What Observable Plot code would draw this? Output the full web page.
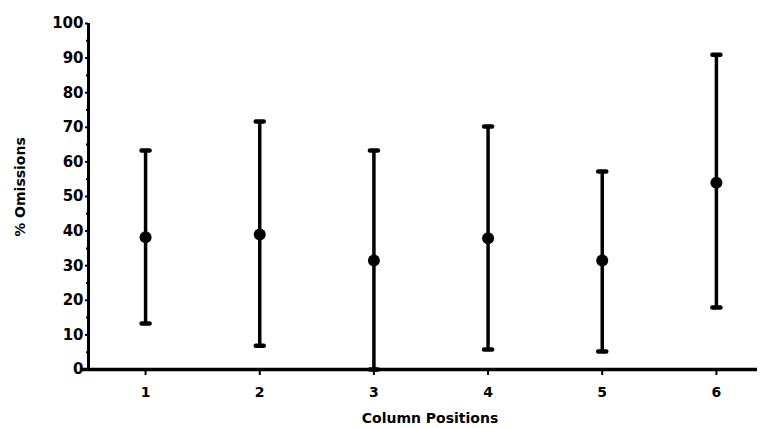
<!DOCTYPE html>
<html>
<head>
<meta charset="utf-8">
<script src="https://cdn.jsdelivr.net/npm/d3@7"></script>
<script src="https://cdn.jsdelivr.net/npm/@observablehq/plot@0.6"></script>
<style>
  html, body { margin: 0; padding: 0; background: #fff; }
  #chart svg { display: block; }
</style>
</head>
<body>
<div id="chart"></div>
<script>
// Data
const columns = [1, 2, 3, 4, 5, 6];
const means = [38.2, 39.0, 31.5, 37.9, 31.5, 54.0];
const lows  = [13.3, 6.9, 0.0, 5.8, 5.2, 17.9];
const highs = [63.3, 71.7, 63.3, 70.2, 57.2, 91.0];
const yTicks = [0, 10, 20, 30, 40, 50, 60, 70, 80, 90, 100];
const yMinorTicks = [5, 15, 25, 35, 45, 55, 65, 75, 85, 95];
const xTicks = [1, 2, 3, 4, 5, 6];
const xTitle = "Column Positions";
const yTitle = "% Omissions";

const data = columns.map((c, i) => ({col: c, mean: means[i], low: lows[i], high: highs[i]}));

const capSymbol = {
  draw(context, size) {
    const r = Math.sqrt(size / Math.PI);
    context.moveTo(-r, 0);
    context.lineTo(r, 0);
  }
};

const font = "'DejaVu Sans', sans-serif";

const plot = Plot.plot({
  width: 767,
  height: 428,
  marginTop: 23,
  marginBottom: 59,
  marginLeft: 88,
  marginRight: 10,
  style: {fontFamily: font, fontWeight: "bold", color: "#000", background: "#fff"},
  x: {domain: [0.5, 6.36]},
  y: {domain: [0, 100]},
  marks: [
    // y axis (major + minor ticks)
    Plot.axisY({ticks: yTicks, tickSize: 3, tickPadding: 2, fontSize: 15, fontWeight: "bold", strokeWidth: 2, label: null}),
    Plot.axisY({ticks: yMinorTicks, tickSize: 2, strokeWidth: 2, tickFormat: () => "", label: null}),
    // x axis ticks
    Plot.axisX({ticks: xTicks, tickFormat: d3.format("d"), tickSize: 6, tickPadding: 12, fontSize: 14, fontWeight: "bold", strokeWidth: 2, label: null}),
    // axis lines
    Plot.ruleX([0.5], {y1: 0, y2: 100, strokeWidth: 3}),
    Plot.ruleY([0], {x1: 0.447, x2: 6.36, strokeWidth: 3.5}),
    // error bars
    Plot.ruleX(data, {x: "col", y1: "low", y2: "high", strokeWidth: 3.5}),
    Plot.dot(data, {x: "col", y: "low", symbol: capSymbol, r: 4, stroke: "black", strokeWidth: 4.5, strokeLinecap: "round", fill: "none"}),
    Plot.dot(data, {x: "col", y: "high", symbol: capSymbol, r: 4, stroke: "black", strokeWidth: 4.5, strokeLinecap: "round", fill: "none"}),
    Plot.dot(data, {x: "col", y: "mean", r: 6, fill: "black", stroke: "none"})
  ]
});

const svg = d3.select(plot);
svg.append("text")
  .attr("x", 430).attr("y", 423)
  .attr("text-anchor", "middle")
  .attr("font-family", font).attr("font-weight", "bold").attr("font-size", 14)
  .text(xTitle);
svg.append("text")
  .attr("transform", "translate(25,187) rotate(-90)")
  .attr("text-anchor", "middle")
  .attr("font-family", font).attr("font-weight", "bold").attr("font-size", 14)
  .text(yTitle);

document.getElementById("chart").appendChild(plot);
</script>
</body>
</html>
